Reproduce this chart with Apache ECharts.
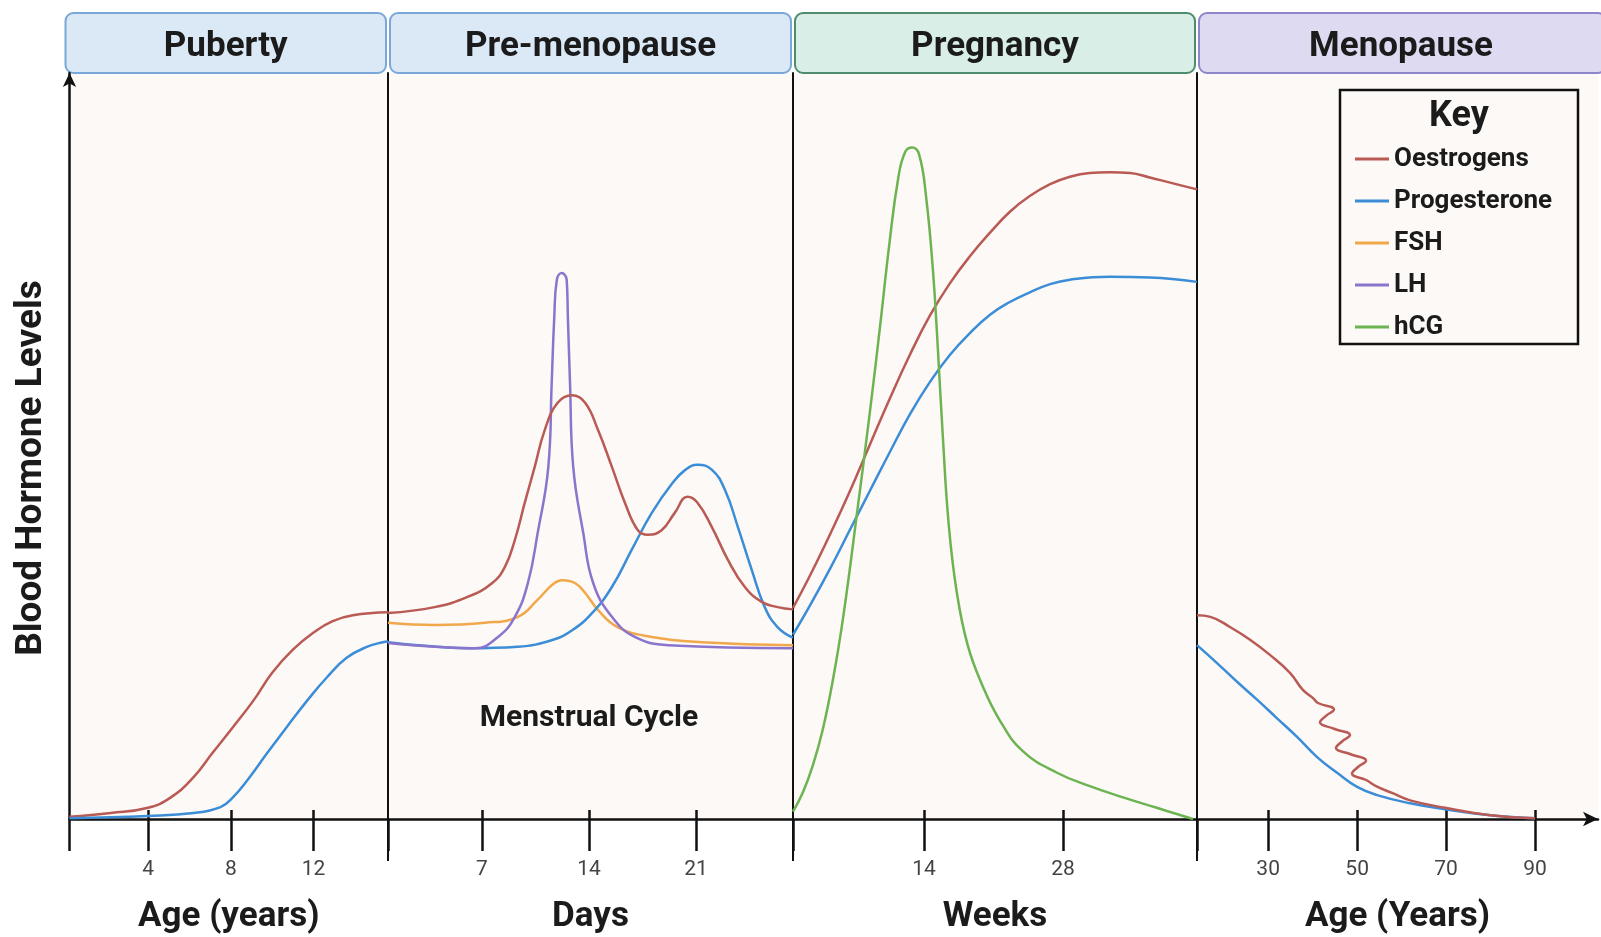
<!DOCTYPE html>
<html>
<head>
<meta charset="utf-8">
<script src="https://cdn.jsdelivr.net/npm/echarts@6/dist/echarts.min.js"></script>
<style>
  html, body { margin: 0; padding: 0; background: #fff; }
  #chart { width: 1601px; height: 937px; }
</style>
</head>
<body>
<div id="chart"></div>
<script>
const phaseNames = ['Puberty', 'Pre-menopause', 'Pregnancy', 'Menopause'];
const axisTitles = ['Age (years)', 'Days', 'Weeks', 'Age (Years)'];
const hormoneNames = ['Oestrogens', 'Progesterone', 'FSH', 'LH', 'hCG'];
const hormoneColors = ['#b95a54', '#3a8dd6', '#f0a84a', '#8b74cc', '#6cb451'];

// x ranges of each panel and the ticks shown on them
const pubertyRange = [0.2, 15.6];
const cycleRange = [0.85, 27.35];
const pregnancyRange = [0.8, 41.5];
const menopauseRange = [14, 104.15];
const pubertyTicks = [4, 8, 12];
const cycleTicks = [7, 14, 21];
const pregnancyTicks = [14, 28];
const menopauseTicks = [30, 50, 70, 90];

// [x, level] pairs, level on a 0-100 scale
const pubertyOestrogen = [[0.2,0.3],[2.2,0.8],[4,1.5],[5.1,2.9],[6.2,5.6],[7.1,8.8],[8.1,12.3],[9.1,15.9],[10,19.6],[11,22.7],[12,25],[12.9,26.5],[13.9,27.3],[15.6,27.7]];
const pubertyProgesterone = [[0.2,0.1],[4,0.4],[6.2,0.8],[7.5,1.6],[8.1,2.9],[8.8,5.2],[9.75,8.8],[10.7,12.3],[11.7,15.9],[12.65,19],[13.6,21.6],[14.6,23.1],[15.35,23.7],[15.6,23.8]];

const cycleOestrogen = [[0.85,27.6],[3.9,28.4],[6.1,29.8],[7.65,31.6],[8.5,33.8],[9.15,37.4],[9.8,42.4],[10.45,47.2],[11.1,52.1],[11.95,55.8],[12.9,56.8],[13.75,55.8],[14.6,52.1],[15.5,47.2],[16.35,42.4],[17.2,38.7],[17.85,38.1],[18.75,38.7],[19.6,41],[20.45,43.2],[21.1,42.4],[22.05,39.1],[23.1,34.7],[24.2,31.1],[25.3,29.1],[26.35,28.4],[27.35,28.1]];
const cycleProgesterone = [[0.85,23.7],[2.8,23.3],[6.1,22.9],[9.35,23.1],[11.6,24],[12.9,25.3],[14.2,27.6],[15.5,31.1],[16.8,36.1],[18.1,41],[19.45,45],[20.3,46.8],[21.1,47.5],[22.05,46.8],[22.9,44.1],[23.75,39.1],[24.65,33.4],[25.5,28.4],[26.35,25.7],[27.35,24.3]];
const cycleFSH = [[0.85,26.3],[3.9,26],[7.2,26.3],[9.35,27.1],[10.65,29.4],[11.6,31.4],[12.25,32],[13.1,31.6],[13.75,30.3],[14.6,28],[15.9,25.7],[18.1,24.4],[21.4,23.7],[27.35,23.3]];
const cycleLH = [[0.85,23.6],[3.9,23.1],[6.55,22.9],[8.05,24.4],[9.15,27.1],[10,31.6],[10.64,38.3],[11.34,47.2],[11.56,58.4],[11.73,67.3],[11.9,72.3],[12.21,73.2],[12.54,72.3],[12.62,67.3],[12.76,58.4],[12.97,47.2],[13.63,38.3],[14.28,31.6],[15.5,27.1],[17,24.4],[19.2,23.3],[27.35,22.9]];

const pregnancyOestrogen = [[0.8,28.3],[2.5,32.6],[4.55,38.2],[6.55,44],[8.55,50.2],[10.6,56.5],[12.6,62.3],[14.6,67.5],[16.6,71.8],[18.6,75.4],[20.65,78.6],[22.65,81.4],[24.65,83.5],[26.7,85.1],[28.7,86.1],[30.7,86.6],[32.7,86.7],[34.75,86.6],[36.75,86],[38.8,85.3],[41.5,84.4]];
const pregnancyProgesterone = [[0.8,24.7],[2.5,28.6],[4.55,33.6],[6.55,38.8],[8.55,44],[10.6,49.3],[12.6,54.3],[14.6,58.6],[16.6,62.2],[18.6,65.1],[20.65,67.6],[22.65,69.3],[24.65,70.6],[26.7,71.7],[28.7,72.3],[32.7,72.7],[36.75,72.6],[41.5,72]];
const pregnancyHCG = [[0.8,1],[1.8,3.6],[2.8,7.2],[3.8,12],[4.8,18.5],[5.85,27],[7.25,41],[8.55,54.6],[9.55,65.8],[10.5,77],[11.4,85.9],[12.1,89.4],[12.8,90],[13.5,89.1],[14.2,83.5],[14.9,73.5],[15.4,62.9],[15.9,51.1],[16.5,39.3],[17.3,30.4],[18.4,23.3],[19.85,18],[21.6,13.3],[23.95,9.1],[27.4,6.2],[30.7,4.4],[34.05,2.9],[37.45,1.5],[41.1,0]];

const menopauseOestrogen = [[14,27.3],[17,27.1],[21.5,25.7],[26,24],[30.4,22],[34.9,19.6],[37.8,17.3],[40.1,16.2],[41.2,15.55],[44.8,14.69],[43,13.83],[41.65,12.96],[44.8,12.1],[48.4,11.26],[46.6,10.39],[45.25,9.52],[48.4,8.71],[52,7.81],[50.2,6.97],[48.85,6.09],[52,5.23],[54.24,4.42],[57.84,3.49],[61.9,2.5],[69.8,1.5],[80,0.5],[90,0.1]];
const menopauseProgesterone = [[14,23.3],[18.5,20.9],[23,18.4],[27.5,16],[32,13.5],[36.5,11],[41,8.3],[45.5,6.2],[50,4.3],[54.5,3.2],[61.9,2.1],[69.8,1.3],[80,0.5],[90,0.1]];

// layout
const gridEdges = [69.5, 388, 793, 1197, 1598];
const GRID_TOP = 73, GRID_BOTTOM = 118, BASE_Y = 937 - GRID_BOTTOM;
const headerFills = ['#dbe8f6', '#dbe8f6', '#d8eee7', '#dedaf2'];
const headerStrokes = ['#79a7d9', '#79a7d9', '#4e8c6d', '#8e86cb'];
const FONT = 'Roboto, "Liberation Sans", sans-serif';
const INK = '#1b1b1b';

const ranges = [pubertyRange, cycleRange, pregnancyRange, menopauseRange];
const ticks = [pubertyTicks, cycleTicks, pregnancyTicks, menopauseTicks];
const axisStroke = { color: '#111', width: 2.5 };

const grids = [], xAxes = [], yAxes = [];
for (let i = 0; i < 4; i++) {
  grids.push({
    left: gridEdges[i], width: gridEdges[i + 1] - gridEdges[i],
    top: GRID_TOP, bottom: GRID_BOTTOM, outerBoundsMode: 'none', containLabel: false,
    show: true, backgroundColor: '#fdf9f6', borderWidth: 0
  });
  xAxes.push({
    type: 'value', gridIndex: i, position: 'bottom', min: ranges[i][0], max: ranges[i][1],
    axisLine: {
      show: true, lineStyle: axisStroke,
      symbol: i === 3 ? ['none', 'arrow'] : 'none', symbolSize: [11, 15]
    },
    axisTick: { show: true, length: 32, lineStyle: axisStroke, customValues: [ranges[i][0]].concat(ticks[i]) },
    axisLabel: { customValues: ticks[i], margin: 40, color: '#444', fontSize: 21, fontFamily: FONT },
    splitLine: { show: false },
    name: axisTitles[i], nameLocation: 'middle', nameGap: 81,
    nameTextStyle: { fontSize: 35, fontWeight: 'bold', color: INK, fontFamily: FONT }
  });
  // short part of each tick that pokes above the axis
  xAxes.push({
    type: 'value', gridIndex: i, position: 'bottom', min: ranges[i][0], max: ranges[i][1],
    axisLine: { show: false },
    axisTick: { show: true, inside: true, length: 9, lineStyle: axisStroke, customValues: ticks[i] },
    axisLabel: { show: false }, splitLine: { show: false }
  });
  yAxes.push({
    type: 'value', gridIndex: i, min: 0, max: 100,
    axisLine: {
      show: true, lineStyle: { color: '#111', width: i === 0 ? 2.5 : 2 },
      symbol: i === 0 ? ['none', 'arrow'] : 'none', symbolSize: [10, 14]
    },
    axisTick: { show: false }, axisLabel: { show: false }, splitLine: { show: false },
    name: i === 0 ? 'Blood Hormone Levels' : '',
    nameLocation: 'middle', nameRotate: 90, nameGap: 19,
    nameTextStyle: { fontSize: 37, fontWeight: 'bold', color: INK, fontFamily: FONT, padding: [0, 44, 0, 0] }
  });
}

function line(name, panel, data) {
  const k = hormoneNames.indexOf(name);
  return {
    name: name, type: 'line', xAxisIndex: panel * 2, yAxisIndex: panel,
    data: data, smooth: 0.45, showSymbol: false, silent: true,
    lineStyle: { width: 2.5, color: hormoneColors[k] },
    itemStyle: { color: hormoneColors[k] }
  };
}

const series = [
  line('Oestrogens', 0, pubertyOestrogen),
  line('Progesterone', 0, pubertyProgesterone),
  line('FSH', 1, cycleFSH),
  line('Progesterone', 1, cycleProgesterone),
  line('LH', 1, cycleLH),
  line('Oestrogens', 1, cycleOestrogen),
  line('Oestrogens', 2, pregnancyOestrogen),
  line('Progesterone', 2, pregnancyProgesterone),
  line('hCG', 2, pregnancyHCG),
  line('Progesterone', 3, menopauseProgesterone),
  line('Oestrogens', 3, menopauseOestrogen)
];

// header boxes, divider stubs under the axis, key box and annotation
const graphics = [];
for (let i = 0; i < 4; i++) {
  const x0 = i === 0 ? gridEdges[0] - 4 : gridEdges[i] + 2;
  const x1 = i === 3 ? 1606 : gridEdges[i + 1] - 2;
  graphics.push({
    type: 'rect', shape: { x: x0, y: 13, width: x1 - x0, height: 60, r: 8 },
    style: { fill: headerFills[i], stroke: headerStrokes[i], lineWidth: 2 }
  });
  graphics.push({
    type: 'text', x: (x0 + Math.min(x1, 1603)) / 2, y: 47,
    style: { text: phaseNames[i], fill: INK, font: 'bold 35px ' + FONT, textAlign: 'center', textVerticalAlign: 'middle' }
  });
  if (i > 0) {
    graphics.push({
      type: 'line', shape: { x1: gridEdges[i], y1: BASE_Y, x2: gridEdges[i], y2: BASE_Y + 42 },
      style: { stroke: '#111', lineWidth: 2 }
    });
  }
}
graphics.push({
  type: 'rect', shape: { x: 1340, y: 90, width: 238, height: 254 },
  style: { fill: '#fdf9f6', stroke: '#111', lineWidth: 2.5 }
});
graphics.push({
  type: 'text', x: 1459, y: 117,
  style: { text: 'Key', fill: INK, font: 'bold 36px ' + FONT, textAlign: 'center', textVerticalAlign: 'middle' }
});
graphics.push({
  type: 'text', x: 589, y: 718,
  style: { text: 'Menstrual Cycle', fill: INK, font: 'bold 30px ' + FONT, textAlign: 'center', textVerticalAlign: 'middle' }
});

const chart = echarts.init(document.getElementById('chart'));
chart.setOption({
  animation: false,
  backgroundColor: '#fff',
  grid: grids,
  xAxis: xAxes,
  yAxis: yAxes,
  legend: {
    data: hormoneNames, orient: 'vertical', left: 1350, top: 141,
    icon: 'rect', itemWidth: 34, itemHeight: 3, itemGap: 16,
    textStyle: { fontSize: 26, fontWeight: 'bold', color: INK, fontFamily: FONT, lineHeight: 26 },
    selectedMode: false
  },
  graphic: graphics,
  series: series
});
</script>
</body>
</html>
